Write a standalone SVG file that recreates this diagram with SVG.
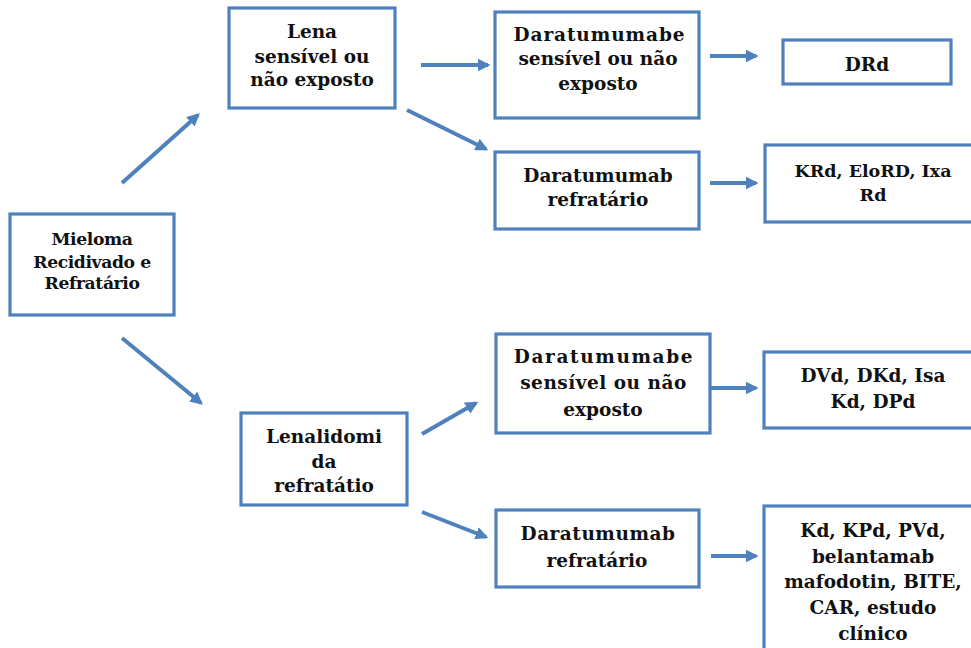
<svg xmlns="http://www.w3.org/2000/svg" width="971" height="648" viewBox="0 0 971 648">
<defs>
<style>
.box{fill:#fff;stroke:#4F81BD;stroke-width:3.2}
.t{font-family:"DejaVu Serif","Liberation Serif",serif;font-weight:bold;font-size:18.5px;fill:#111;text-anchor:middle}
.s{font-size:17.2px;letter-spacing:-0.4px}
.k{font-size:17.5px}
.c{stroke:#4F81BD;stroke-width:4;fill:none;marker-end:url(#ah)}
</style>
<marker id="ah" viewBox="0 0 10 10" refX="8" refY="5" markerWidth="3.2" markerHeight="3.2" orient="auto" markerUnits="strokeWidth">
<path d="M0,0 L10,5 L0,10 z" fill="#4F81BD"/>
</marker>
</defs>
<rect width="971" height="648" fill="#fff"/>
<g id="connectors">
<line class="c" x1="122" y1="183" x2="198" y2="115"/>
<line class="c" x1="122" y1="338" x2="201" y2="403"/>
<line class="c" x1="421" y1="65" x2="488" y2="65"/>
<line class="c" x1="407" y1="110" x2="486" y2="149"/>
<line class="c" x1="710" y1="56" x2="756" y2="56"/>
<line class="c" x1="710" y1="183" x2="756" y2="183"/>
<line class="c" x1="422" y1="434" x2="476" y2="403"/>
<line class="c" x1="422" y1="512" x2="486" y2="537"/>
<line class="c" x1="711" y1="388" x2="756" y2="388"/>
<line class="c" x1="711" y1="556" x2="756" y2="556"/>
</g>
<g id="n-mieloma">
<rect class="box" x="10" y="214" width="164" height="101"/>
<text class="t s" x="92" y="245">Mieloma</text>
<text class="t s" x="92" y="268">Recidivado e</text>
<text class="t s" x="92" y="289">Refratário</text>
</g>
<g id="n-lena">
<rect class="box" x="229" y="8" width="166" height="100"/>
<text class="t" x="312" y="38">Lena</text>
<text class="t" x="312" y="63">sensível ou</text>
<text class="t" x="312" y="86">não exposto</text>
</g>
<g id="n-dara-sens-1">
<rect class="box" x="495" y="12" width="204" height="106"/>
<text class="t" x="599.5" y="41" letter-spacing="0.9">Daratumumabe</text>
<text class="t" x="598" y="65">sensível ou não</text>
<text class="t" x="598" y="90">exposto</text>
</g>
<g id="n-drd">
<rect class="box" x="783" y="40" width="168" height="44"/>
<text class="t" x="867" y="71">DRd</text>
</g>
<g id="n-dara-ref-1">
<rect class="box" x="495" y="152" width="204" height="77"/>
<text class="t" x="598" y="182">Daratumumab</text>
<text class="t" x="598" y="206">refratário</text>
</g>
<g id="n-krd">
<rect class="box" x="765" y="145" width="220" height="77"/>
<text class="t k" x="873" y="177">KRd, EloRD, Ixa</text>
<text class="t k" x="873" y="201">Rd</text>
</g>
<g id="n-lenalidomida">
<rect class="box" x="241" y="413" width="166" height="92"/>
<text class="t" x="324" y="443">Lenalidomi</text>
<text class="t" x="324" y="468">da</text>
<text class="t" x="324" y="492">refratátio</text>
</g>
<g id="n-dara-sens-2">
<rect class="box" x="496" y="334" width="214" height="99"/>
<text class="t" x="604" y="363" letter-spacing="1.6">Daratumumabe</text>
<text class="t" x="603.5" y="389" letter-spacing="0.5">sensível ou não</text>
<text class="t" x="603" y="416">exposto</text>
</g>
<g id="n-dvd">
<rect class="box" x="764" y="352" width="220" height="76"/>
<text class="t" x="873" y="382">DVd, DKd, Isa</text>
<text class="t" x="873" y="408">Kd, DPd</text>
</g>
<g id="n-dara-ref-2">
<rect class="box" x="496" y="510" width="203" height="77"/>
<text class="t" x="598" y="540" letter-spacing="0.5">Daratumumab</text>
<text class="t" x="597" y="567">refratário</text>
</g>
<g id="n-kd">
<rect class="box" x="764" y="506" width="220" height="160"/>
<text class="t" x="873" y="537">Kd, KPd, PVd,</text>
<text class="t" x="873" y="563">belantamab</text>
<text class="t" x="873" y="588">mafodotin, BITE,</text>
<text class="t" x="873" y="614">CAR, estudo</text>
<text class="t" x="873" y="640">clínico</text>
</g>
</svg>
